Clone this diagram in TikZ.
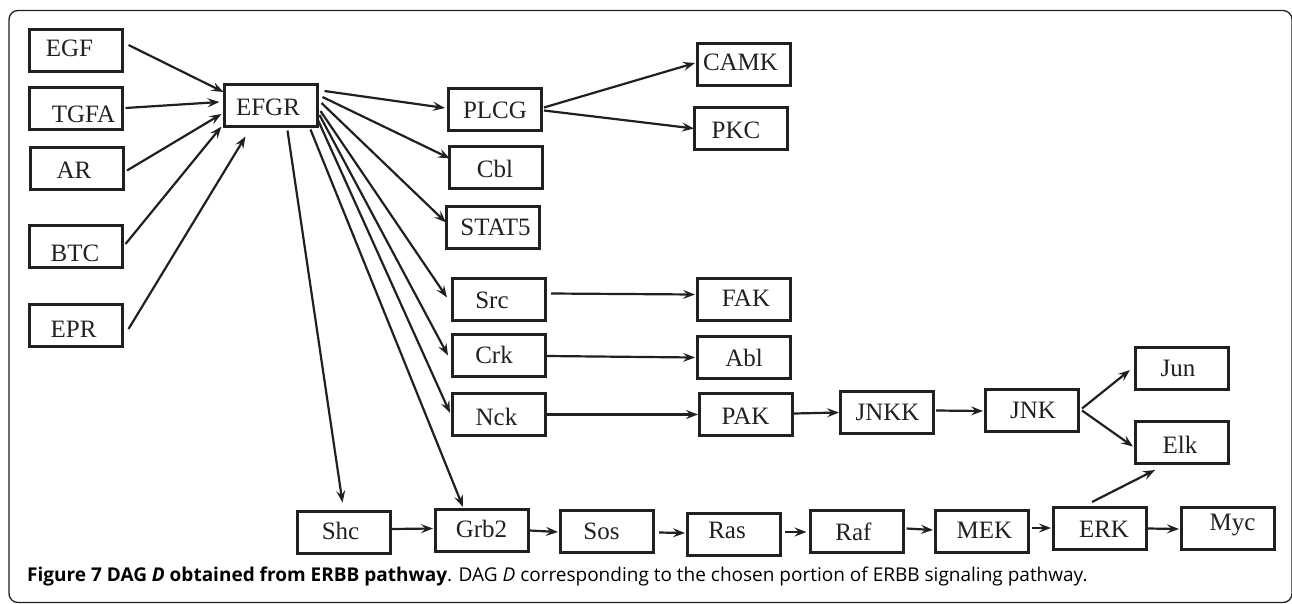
\documentclass[tikz,border=0pt]{standalone}
\usepackage{fontspec}
\setmainfont{Liberation Serif}
\newfontfamily\capfont{Open Sans}
\usetikzlibrary{arrows.meta,calc}
\definecolor{ink}{HTML}{231F20}
\tikzset{
  box/.style={draw=ink, line width=3pt, minimum width=93pt, minimum height=42pt, inner sep=0pt},
  lbl/.style={anchor=base, inner sep=0pt, font=\fontsize{25}{25}\selectfont, text=ink},
  arr/.style={draw=ink, line width=2.2pt, -{Stealth[length=12pt,width=9pt,inset=4.5pt]}},
  frame/.style={draw=ink, line width=1.3pt, rounded corners=9pt},
}
\newcommand\mybox[6]{\node[box] (#1) at (#2,#3) {}; \node[lbl] (#1t) at (#4,#5) {#6};}
\begin{document}
\begin{tikzpicture}[x=1pt,y=-1pt]
\useasboundingbox (0,0) rectangle (1292,603);
\draw[frame] (9,10.5) rectangle (1292,602.5);
% boxes: name, box center, text base, text
\mybox{EGF}{75.5}{50}{69.5}{56}{EGF}
\mybox{TGFA}{75.5}{108}{83.5}{122}{TGFA}
\mybox{AR}{77}{168.5}{74}{178}{AR}
\mybox{BTC}{75.5}{246}{75}{261}{BTC}
\mybox{EPR}{75.5}{325}{73.5}{337}{EPR}
\mybox{EFGR}{270.5}{105}{268}{115}{EFGR}
\mybox{PLCG}{495}{109.5}{495}{118}{PLCG}
\mybox{Cbl}{496}{167.5}{495}{177}{Cbl}
\mybox{STAT5}{493}{227.5}{495.5}{235}{STAT5}
\mybox{CAMK}{744}{64.5}{740.5}{70.7}{CAMK}
\mybox{PKC}{741}{128.5}{736}{138}{PKC}
\mybox{Src}{499}{299.5}{492}{308}{Src}
\mybox{FAK}{744}{299.5}{746}{306}{FAK}
\mybox{Crk}{499}{355.5}{494}{363}{Crk}
\mybox{Abl}{744}{357.5}{744}{366}{Abl}
\mybox{Nck}{499}{414.5}{496.5}{425}{Nck}
\mybox{PAK}{746}{414.5}{745.5}{424}{PAK}
\mybox{JNKK}{887}{412.5}{887.5}{420}{JNKK}
\mybox{JNK}{1032}{410.5}{1033}{418}{JNK}
\mybox{Jun}{1182}{368.5}{1178}{376}{Jun}
\mybox{Elk}{1182}{442.5}{1180}{453}{Elk}
\mybox{Shc}{343.5}{532}{340.5}{539}{Shc}
\mybox{Grb2}{482}{530.5}{481.5}{537}{Grb2}
\mybox{Sos}{607}{531.5}{601.5}{539}{Sos}
\mybox{Ras}{734}{534.5}{727}{538}{Ras}
\mybox{Raf}{856.5}{531.5}{853.5}{540}{Raf}
\mybox{MEK}{982}{531.5}{984.5}{538}{MEK}
\mybox{ERK}{1100}{528.5}{1104}{537}{ERK}
\mybox{Myc}{1228}{528.5}{1232.5}{530}{Myc}
% edges into EFGR
\draw[arr] ($(EGF.east)+(5,-5)$) -- ($(EFGR.west)+(1,-13)$);
\draw[arr] ($(TGFA.east)+(2,0)$) -- ($(EFGR.west)+(-3,-3)$);
\draw[arr] ($(AR.east)+(2,2)$) -- ($(EFGR.west)+(-1,9)$);
\draw[arr] ($(BTC.east)+(2,-2)$) -- ($(EFGR.south west)+(-1,-1)$);
\draw[arr] ($(EPR.east)+(5,4)$) -- ($(EFGR.south west)+(23,9)$);
% edges out of EFGR
\draw[arr] ($(EFGR.east)+(6,-14)$) -- ($(PLCG.west)+(-2,-1.5)$);
\draw[arr] ($(EFGR.east)+(4,-8)$) -- ($(Cbl.west)+(2,-9)$);
\draw[arr] ($(EFGR.east)+(3,-2)$) -- ($(STAT5.west)+(1,-5)$);
\draw[arr] ($(EFGR.east)+(2,6)$) -- ($(Src.west)+(-4,-2)$);
\draw[arr] ($(EFGR.east)+(1,10)$) -- ($(Crk.west)+(-3,0)$);
\draw[arr] ($(EFGR.east)+(-1,14)$) -- ($(Nck.west)+(-1,-1.5)$);
\draw[arr] ($(EFGR.south east)+(-8,2)$) -- ($(Grb2.north)+(-19,-1)$);
\draw[arr] ($(EFGR.south)+(17,3)$) -- ($(Shc.north)+(-1,-7)$);
% other edges
\draw[arr] ($(PLCG.east)+(1,-2)$) -- ($(CAMK.west)+(-1,-1.5)$);
\draw[arr] ($(PLCG.east)+(1,1)$) -- ($(PKC.west)+(1,0)$);
\draw[arr] ($(Src.east)+(4,-6)$) -- ($(FAK.west)+(-1,-5)$);
\draw[arr] ($(Crk.east)+(0,0.5)$) -- ($(Abl.west)+(-1,0)$);
\draw[arr] (Nck.east) -- (PAK.west);
\draw[arr] ($(PAK.east)+(0,-1)$) -- (JNKK.west);
\draw[arr] ($(JNKK.east)+(1,-2)$) -- ($(JNK.west)+(-1,0.5)$);
\draw[arr] ($(JNK.east)+(2,-2)$) -- ($(Jun.west)+(-4,1.5)$);
\draw[arr] ($(JNK.east)+(2,0)$) -- ($(Elk.west)+(-1,4)$);
\draw[arr] ($(Shc.east)+(0,-3)$) -- ($(Grb2.west)+(-1,-2)$);
\draw[arr] (Grb2.east) -- ($(Sos.west)+(-1,0.5)$);
\draw[arr] ($(Sos.east)+(4,1)$) -- ($(Ras.west)+(-1,-1.5)$);
\draw[arr] ($(Ras.east)+(3,-2.5)$) -- ($(Raf.west)+(-2,0.5)$);
\draw[arr] ($(Raf.east)+(2,-3)$) -- ($(MEK.west)+(-1,-1.5)$);
\draw[arr] ($(MEK.east)+(2,-3.5)$) -- ($(ERK.west)+(-1,-0.5)$);
\draw[arr] (ERK.east) -- ($(Myc.west)+(-1,0.5)$);
\draw[arr] ($(ERK.north)+(-8,-4)$) -- ($(Elk.south)+(-27,5)$);
% caption
\node[anchor=base west, inner sep=0pt, font=\capfont\fontsize{19}{19}\selectfont] (cap) at (27,581)
  {\textbf{Figure 7 DAG \textit{D} obtained from ERBB pathway}. DAG \textit{D} corresponding to the chosen portion of ERBB signaling pathway.};
\end{tikzpicture}
\end{document}
